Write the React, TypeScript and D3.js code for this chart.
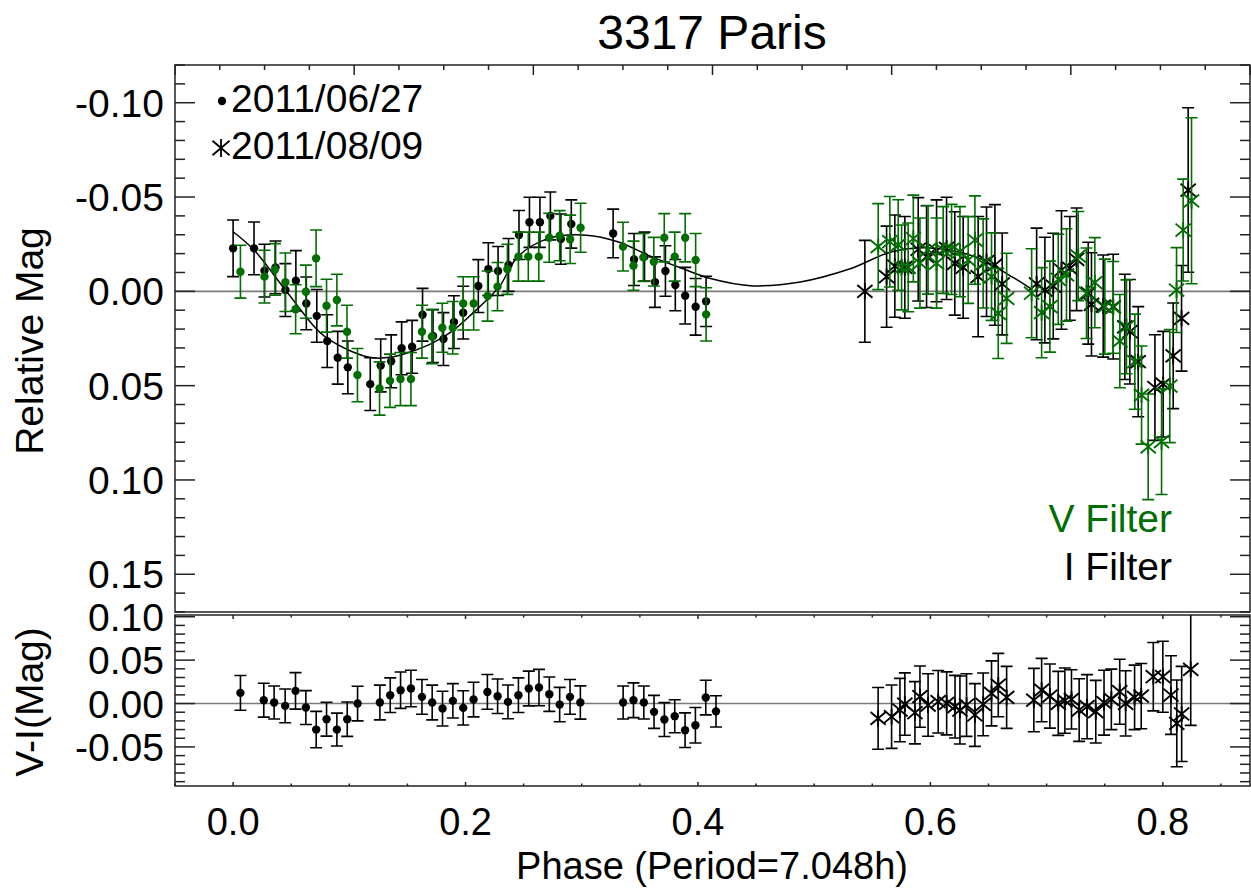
import React from 'react';
import * as d3 from 'd3';

const GREEN = '#006e00';
const FONT = 'Liberation Sans, Arial, Helvetica, sans-serif';

// ---- 2011/06/27 (dots) I filter (black) ----
const i1Phase = [0.000, 0.018, 0.027, 0.0365, 0.045, 0.054, 0.063, 0.072, 0.081, 0.090, 0.0987, 0.118, 0.127, 0.136, 0.145, 0.154, 0.163, 0.172, 0.181, 0.190, 0.198, 0.211, 0.2196, 0.228, 0.237, 0.246, 0.255, 0.264, 0.273, 0.282, 0.291, 0.327, 0.345, 0.354, 0.363, 0.372, 0.3805, 0.389, 0.398, 0.407];
const i1Mag = [-0.0228, -0.0228, -0.011, -0.0127, -0.0007, -0.0056, 0.0064, 0.013, 0.0264, 0.0352, 0.0403, 0.0492, 0.0393, 0.0371, 0.0302, 0.0294, 0.0124, 0.0237, 0.0253, 0.0163, 0.0113, -0.0028, -0.0118, -0.0108, -0.014, -0.0299, -0.0366, -0.0366, -0.040, -0.0277, -0.0357, -0.0307, -0.0169, -0.0184, -0.0049, -0.0108, -0.0033, 0.0023, 0.0082, 0.0053];
const i1Err = [0.015, 0.014, 0.014, 0.014, 0.014, 0.016, 0.014, 0.014, 0.014, 0.014, 0.014, 0.014, 0.014, 0.014, 0.014, 0.014, 0.014, 0.014, 0.014, 0.014, 0.014, 0.014, 0.014, 0.013, 0.014, 0.013, 0.0133, 0.0133, 0.0127, 0.0133, 0.0128, 0.0129, 0.0138, 0.013, 0.0134, 0.0134, 0.0136, 0.015, 0.015, 0.0133];

// ---- 2011/06/27 (dots) V filter (green) ----
const v1Phase = [0.0063, 0.027, 0.036, 0.045, 0.0538, 0.0626, 0.0714, 0.0804, 0.0893, 0.098, 0.107, 0.126, 0.135, 0.144, 0.153, 0.1625, 0.171, 0.180, 0.189, 0.198, 0.207, 0.219, 0.2275, 0.236, 0.2455, 0.254, 0.263, 0.272, 0.281, 0.290, 0.299, 0.3355, 0.3445, 0.353, 0.362, 0.371, 0.380, 0.389, 0.398, 0.407];
const v1Mag = [-0.0104, -0.0078, -0.0116, -0.0048, 0.0095, 0.0002, -0.0175, 0.0076, 0.0046, 0.0214, 0.0444, 0.0515, 0.0474, 0.0465, 0.0465, 0.0214, 0.024, 0.0193, 0.0193, 0.0064, 0.0064, 0.0025, -0.0025, -0.0117, -0.0184, -0.0184, -0.0184, -0.0284, -0.0295, -0.0276, -0.0337, -0.0237, -0.0136, -0.018, -0.0157, -0.0284, -0.0184, -0.0284, -0.0166, 0.0122];
const v1Err = [0.014, 0.014, 0.0137, 0.0155, 0.013, 0.0141, 0.015, 0.014, 0.0137, 0.014, 0.0141, 0.0141, 0.0141, 0.0141, 0.0141, 0.014, 0.0143, 0.013, 0.0139, 0.0141, 0.0141, 0.0133, 0.0128, 0.0133, 0.013, 0.013, 0.013, 0.013, 0.0133, 0.0128, 0.013, 0.0129, 0.013, 0.0127, 0.0129, 0.0128, 0.013, 0.0128, 0.0141, 0.0141];

// ---- 2011/08/09 (asterisks) I filter (black) ----
const i2Phase = [0.5436, 0.5623, 0.5694, 0.578, 0.5895, 0.5967, 0.6053, 0.6139, 0.621, 0.6282, 0.6411, 0.6483, 0.6555, 0.6618, 0.6914, 0.6985, 0.7057, 0.7128, 0.72, 0.7258, 0.7358, 0.7386, 0.7487, 0.7573, 0.7673, 0.7716, 0.7788, 0.7932, 0.8003, 0.8089, 0.8161, 0.8218];
const i2Mag = [0.0, -0.0078, -0.0134, -0.0127, -0.0223, -0.0184, -0.0215, -0.0228, -0.0148, -0.0127, -0.0078, -0.0157, -0.014, -0.0039, -0.0039, -0.0007, -0.0028, -0.0113, -0.0122, -0.017, 0.001, 0.0069, 0.0078, 0.0081, 0.0188, 0.0214, 0.0373, 0.051, 0.0492, 0.0342, 0.0143, -0.0537];
const i2Err = [0.027, 0.0268, 0.0271, 0.027, 0.0274, 0.027, 0.027, 0.0271, 0.0274, 0.027, 0.0319, 0.029, 0.032, 0.027, 0.0296, 0.028, 0.028, 0.0314, 0.0275, 0.0272, 0.027, 0.0274, 0.0271, 0.0278, 0.0279, 0.0277, 0.0292, 0.028, 0.028, 0.028, 0.028, 0.0436];

// ---- 2011/08/09 (asterisks) V filter (green) ----
const v2Phase = [0.5551, 0.5651, 0.5723, 0.5752, 0.5809, 0.5853, 0.591, 0.598, 0.6053, 0.611, 0.6182, 0.6254, 0.6325, 0.6383, 0.6454, 0.6526, 0.6584, 0.6656, 0.6871, 0.6957, 0.7028, 0.71, 0.7171, 0.7272, 0.7343, 0.7415, 0.7501, 0.7573, 0.763, 0.7687, 0.7759, 0.7817, 0.7874, 0.7989, 0.806, 0.8118, 0.8175, 0.8247];
const v2Mag = [-0.0237, -0.0263, -0.0246, -0.0127, -0.0127, -0.028, -0.015, -0.022, -0.015, -0.0219, -0.0222, -0.021, -0.0166, -0.0272, -0.0148, -0.0078, 0.0117, 0.0037, 0.001, 0.0113, 0.0081, -0.0064, -0.0087, -0.0187, 0.001, -0.0046, 0.0081, 0.0085, 0.0264, 0.0188, 0.0373, 0.055, 0.0824, 0.0797, 0.0502, -0.0007, -0.0325, -0.048];
const v2Err = [0.0228, 0.024, 0.024, 0.0225, 0.0235, 0.023, 0.0239, 0.0235, 0.0239, 0.023, 0.0239, 0.0239, 0.023, 0.0234, 0.0236, 0.0232, 0.0239, 0.0239, 0.0236, 0.0239, 0.0241, 0.0239, 0.0245, 0.0236, 0.024, 0.0239, 0.0252, 0.0243, 0.0247, 0.0249, 0.0252, 0.026, 0.028, 0.028, 0.03, 0.0225, 0.027, 0.044];

// ---- V-I, 2011/06/27 (dots) ----
const vi1Phase = [0.0063, 0.0264, 0.0353, 0.0448, 0.0537, 0.0626, 0.0715, 0.0804, 0.0893, 0.0982, 0.1071, 0.1263, 0.1352, 0.1441, 0.153, 0.1625, 0.1713, 0.1802, 0.1891, 0.198, 0.2069, 0.2188, 0.2276, 0.2365, 0.2455, 0.2544, 0.2632, 0.2721, 0.281, 0.2899, 0.2988, 0.3356, 0.3445, 0.3534, 0.3622, 0.3711, 0.38, 0.3889, 0.3978, 0.4067, 0.4155];
const vi1Val = [0.0123, 0.0038, 0.0012, -0.0027, 0.0146, -0.0046, -0.030, -0.018, -0.030, -0.018, 0.0, 0.0012, 0.0096, 0.0154, 0.0173, 0.0077, 0.0012, -0.0058, 0.0031, -0.005, 0.0046, 0.0134, 0.0084, 0.0019, 0.0096, 0.0173, 0.0184, 0.0108, -0.0012, 0.0077, 0.0012, 0.0012, 0.0038, 0.0012, -0.0096, -0.0184, -0.0146, -0.0307, -0.025, 0.0069, -0.009];
const vi1Err = [0.020, 0.0195, 0.019, 0.0195, 0.021, 0.0195, 0.021, 0.0195, 0.019, 0.0198, 0.020, 0.020, 0.020, 0.021, 0.021, 0.020, 0.020, 0.020, 0.0198, 0.0198, 0.020, 0.020, 0.0198, 0.0195, 0.020, 0.020, 0.021, 0.0198, 0.0198, 0.020, 0.0192, 0.019, 0.020, 0.019, 0.019, 0.0195, 0.019, 0.020, 0.0205, 0.020, 0.018];

// ---- V-I, 2011/08/09 (asterisks) ----
const vi2Phase = [0.555, 0.5666, 0.5738, 0.578, 0.5867, 0.591, 0.598, 0.6067, 0.614, 0.6212, 0.6254, 0.6311, 0.6383, 0.6454, 0.6526, 0.6584, 0.6656, 0.689, 0.6957, 0.7028, 0.71, 0.7157, 0.7214, 0.728, 0.7348, 0.7423, 0.7494, 0.7557, 0.7629, 0.768, 0.7757, 0.7814, 0.7918, 0.800, 0.807, 0.812, 0.8162, 0.824];
const vi2Val = [-0.0171, -0.0152, -0.0075, -0.0006, -0.0106, 0.0079, -0.0017, 0.0021, 0.0002, -0.0036, -0.0075, -0.0017, -0.0132, -0.001, 0.0117, 0.0213, 0.0071, 0.004, 0.0155, 0.0086, 0.0002, 0.0033, 0.0048, -0.0075, -0.0036, -0.0094, 0.001, 0.0048, 0.0136, 0.0002, 0.0071, 0.0086, 0.0309, 0.0309, 0.0098, -0.0228, -0.012, 0.0394];
const vi2Err = [0.0355, 0.0365, 0.0365, 0.0359, 0.0359, 0.0353, 0.036, 0.036, 0.0363, 0.0361, 0.0392, 0.0361, 0.0361, 0.0361, 0.0374, 0.0365, 0.0357, 0.0365, 0.0365, 0.0369, 0.0369, 0.0376, 0.0342, 0.0361, 0.0369, 0.0361, 0.0374, 0.0349, 0.0374, 0.0376, 0.0372, 0.0376, 0.0394, 0.0409, 0.0453, 0.050, 0.0548, 0.0645];

// ---- Fourier fit ----
const fitPhase = [0.000, 0.018, 0.045, 0.070, 0.079, 0.1026, 0.120, 0.135, 0.153, 0.171, 0.188, 0.206, 0.221, 0.230, 0.245, 0.2715, 0.304, 0.331, 0.360, 0.390, 0.410, 0.445, 0.488, 0.531, 0.567, 0.600, 0.640, 0.671, 0.686];
const fitMag = [-0.0316, -0.0219, -0.0007, 0.0188, 0.024, 0.032, 0.0352, 0.035, 0.032, 0.0276, 0.0214, 0.0117, 0.0029, -0.0033, -0.0184, -0.0281, -0.0298, -0.0263, -0.0184, -0.0113, -0.0069, -0.003, -0.005, -0.012, -0.021, -0.023, -0.018, -0.0074, -0.0016];

// ---- tick labels ----
const topYLabels = [-0.10, -0.05, 0.0, 0.05, 0.10, 0.15];
const botYLabels = [-0.05, 0.0, 0.05, 0.10];
const xLabels = [0.0, 0.2, 0.4, 0.6, 0.8];

const L = 175, R = 1250;
const TOP0 = 65, TOP1 = 612, BOT0 = 615, BOT1 = 786;

function asterisk(cx: number, cy: number, s: number) {
  const dx = s * 0.95, dy = s * 0.8;
  return `M${cx},${cy - s}L${cx},${cy + s}M${cx - dx},${cy - dy}L${cx + dx},${cy + dy}M${cx - dx},${cy + dy}L${cx + dx},${cy - dy}`;
}

type Sym = 'dot' | 'star';

function Series({ ph, val, err, x, y, color, sym }: { ph: number[]; val: number[]; err: number[]; x: any; y: any; color: string; sym: Sym }) {
  const cap = 6;
  return (
    <g>
      {ph.map((p, i) => {
        const cx = x(p);
        const yt = y(val[i] - err[i]);
        const yb = y(val[i] + err[i]);
        return (
          <path key={'e' + i} d={`M${cx},${yt}L${cx},${yb}M${cx - cap},${yt}L${cx + cap},${yt}M${cx - cap},${yb}L${cx + cap},${yb}`} stroke={color} strokeWidth={1.6} fill="none" />
        );
      })}
      {ph.map((p, i) =>
        sym === 'dot' ? (
          <circle key={'p' + i} cx={x(p)} cy={y(val[i])} r={4.2} fill={color} />
        ) : (
          <path key={'p' + i} d={asterisk(x(p), y(val[i]), 8)} stroke={color} strokeWidth={1.9} fill="none" />
        )
      )}
    </g>
  );
}

export default function App() {
  const x = d3.scaleLinear().domain([-0.05, 0.875]).range([L, R]);
  const yTop = d3.scaleLinear().domain([-0.12, 0.17]).range([TOP0, TOP1]);
  const yBot = d3.scaleLinear().domain([-0.095, 0.102]).range([BOT1, BOT0]);
  const topAxis = d3.scaleLinear().domain([0, 24]).range([L, R]);

  const fitLine = d3
    .line<number>()
    .x((d, i) => x(fitPhase[i]))
    .y((d) => yTop(d))
    .curve(d3.curveCatmullRom.alpha(0.5));

  const axisColor = '#222';
  const topYTicks = d3.range(-12, 18);
  const botYTicks = d3.range(-9, 11);
  const xTicks = d3.range(-1, 18);
  const topXTicks = d3.range(0, 25);

  return (
    <svg width={1251} height={890} style={{ position: 'absolute', left: 0, top: 0, background: '#fff' }} fontFamily={FONT}>
      <defs>
        <clipPath id="clipTop">
          <rect x={L} y={TOP0} width={R - L} height={TOP1 - TOP0} />
        </clipPath>
        <clipPath id="clipBot">
          <rect x={L} y={BOT0} width={R - L} height={BOT1 - BOT0} />
        </clipPath>
      </defs>
      <rect x={0} y={0} width={1251} height={890} fill="#fff" />

      {/* title */}
      <text x={712} y={49} fontSize={48} textAnchor="middle" fill="#000">3317 Paris</text>

      {/* ---------- top panel ---------- */}
      <g clipPath="url(#clipTop)">
        <line x1={L} x2={R} y1={yTop(0)} y2={yTop(0)} stroke="#7a7a7a" strokeWidth={1.6} />
        <path d={fitLine(fitMag) || ''} stroke="#000" strokeWidth={1.5} fill="none" />
        <Series ph={i1Phase} val={i1Mag} err={i1Err} x={x} y={yTop} color="#000" sym="dot" />
        <Series ph={v1Phase} val={v1Mag} err={v1Err} x={x} y={yTop} color={GREEN} sym="dot" />
        <Series ph={i2Phase} val={i2Mag} err={i2Err} x={x} y={yTop} color="#000" sym="star" />
        <Series ph={v2Phase} val={v2Mag} err={v2Err} x={x} y={yTop} color={GREEN} sym="star" />
      </g>
      <rect x={L} y={TOP0} width={R - L} height={TOP1 - TOP0} fill="none" stroke={axisColor} strokeWidth={1.5} />
      {topYTicks.map((k) => {
        const yy = yTop(k / 100);
        const len = k % 5 === 0 ? 20 : 10;
        return (
          <g key={'ty' + k}>
            <line x1={L} x2={L + len} y1={yy} y2={yy} stroke={axisColor} strokeWidth={1.5} />
            <line x1={R - len} x2={R} y1={yy} y2={yy} stroke={axisColor} strokeWidth={1.5} />
          </g>
        );
      })}
      {topXTicks.map((k) => {
        const xx = topAxis(k);
        const len = k % 4 === 0 ? 10 : 5;
        return <line key={'tx' + k} x1={xx} x2={xx} y1={TOP0} y2={TOP0 + len} stroke={axisColor} strokeWidth={1.5} />;
      })}
      {topYLabels.map((v) => (
        <text key={'tyl' + v} x={164} y={yTop(v) + 14} fontSize={39} textAnchor="end" fill="#000">
          {v.toFixed(2)}
        </text>
      ))}

      {/* legend */}
      <circle cx={222} cy={101} r={4.2} fill="#000" />
      <text x={231} y={112} fontSize={39} fill="#000">2011/06/27</text>
      <path d={asterisk(221, 148, 9)} stroke="#000" strokeWidth={1.8} fill="none" />
      <text x={231} y={159} fontSize={39} fill="#000">2011/08/09</text>

      <text x={1172} y={532} fontSize={39} textAnchor="end" fill={GREEN}>V Filter</text>
      <text x={1172} y={580} fontSize={39} textAnchor="end" fill="#000">I Filter</text>

      {/* ---------- bottom panel ---------- */}
      <g clipPath="url(#clipBot)">
        <line x1={L} x2={R} y1={yBot(0)} y2={yBot(0)} stroke="#7a7a7a" strokeWidth={1.6} />
        <Series ph={vi1Phase} val={vi1Val} err={vi1Err} x={x} y={yBot} color="#000" sym="dot" />
        <Series ph={vi2Phase} val={vi2Val} err={vi2Err} x={x} y={yBot} color="#000" sym="star" />
      </g>
      <rect x={L} y={BOT0} width={R - L} height={BOT1 - BOT0} fill="none" stroke={axisColor} strokeWidth={1.5} />
      {botYTicks.map((k) => {
        const yy = yBot(k / 100);
        const len = k % 5 === 0 ? 20 : 10;
        return (
          <g key={'by' + k}>
            <line x1={L} x2={L + len} y1={yy} y2={yy} stroke={axisColor} strokeWidth={1.5} />
            <line x1={R - len} x2={R} y1={yy} y2={yy} stroke={axisColor} strokeWidth={1.5} />
          </g>
        );
      })}
      {xTicks.map((k) => {
        const xx = x(k * 0.05);
        const len = k % 4 === 0 ? 4 : 2.5;
        return (
          <g key={'bx' + k}>
            <line x1={xx} x2={xx} y1={BOT1} y2={BOT1 - len} stroke={axisColor} strokeWidth={1.5} />
            <line x1={xx} x2={xx} y1={BOT0} y2={BOT0 + len} stroke={axisColor} strokeWidth={1.5} />
          </g>
        );
      })}
      {botYLabels.map((v) => (
        <text key={'byl' + v} x={164} y={yBot(v) + 14} fontSize={39} textAnchor="end" fill="#000">
          {v.toFixed(2)}
        </text>
      ))}
      {xLabels.map((v) => (
        <text key={'xl' + v} x={x(v)} y={835} fontSize={38} textAnchor="middle" fill="#000">
          {v.toFixed(1)}
        </text>
      ))}

      {/* axis titles */}
      <text x={712} y={879} fontSize={38} textAnchor="middle" fill="#000">Phase (Period=7.048h)</text>
      <text transform="translate(43,341) rotate(-90)" fontSize={39} textAnchor="middle" fill="#000">Relative Mag</text>
      <text transform="translate(43,702) rotate(-90)" fontSize={39} textAnchor="middle" fill="#000">V-I(Mag)</text>
    </svg>
  );
}
